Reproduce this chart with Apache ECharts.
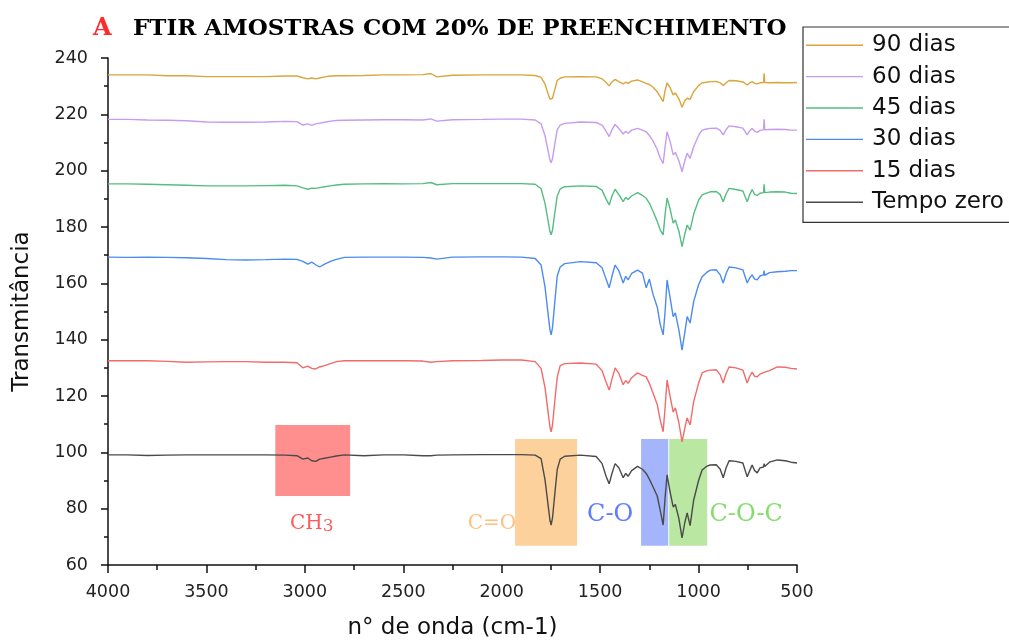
<!DOCTYPE html>
<html><head><meta charset="utf-8">
<script src="https://cdn.jsdelivr.net/npm/echarts@6/dist/echarts.min.js"></script>
<style>html,body{margin:0;padding:0;background:#fff}#c{width:1009px;height:641px}</style>
</head><body><div id="c"></div>
<script>
// Wavenumber grid (cm-1)
const wavenumbers = [4000,3900,3800,3700,3600,3500,3400,3300,3200,3100,3040,3010,2985,2965,2945,2925,2900,2870,2840,2800,
 2700,2600,2500,2400,2360,2330,2250,2100,2000,1900,1830,1800,1780,1765,1755,1749,1742,1732,1718,1703,
 1680,1600,1520,1490,1470,1454,1440,1424,1405,1383,1370,1358,1340,1310,1285,1266,1250,1231,1210,1195,
 1180,1170,1160,1145,1129,1118,1100,1084,1070,1058,1043,1025,1000,982,960,941,910,890,875,860,
 845,810,775,753,740,728,715,702,688,670,667,664,640,600,560,530,500];

const dias90 = [234.0,234.0,234.0,233.7,233.7,233.4,233.4,233.4,233.4,233.6,233.6,233.0,232.6,232.9,232.6,232.9,233.3,233.6,233.7,233.7,
 233.8,234.0,234.0,234.1,234.5,233.3,233.9,234.0,234.0,234.0,233.8,233.1,230.7,227.5,225.4,224.8,225.7,228.4,232.0,232.8,
 233.3,233.4,233.3,232.6,231.3,230.1,231.5,232.4,231.6,230.8,231.4,231.0,231.8,232.2,231.5,231.0,230.6,229.6,228.0,226.3,
 224.5,228.5,231.2,229.5,226.9,227.6,225.5,222.5,224.8,225.7,225.3,228.0,230.2,231.2,231.4,231.6,231.7,231.2,230.2,231.2,
 232.0,231.9,231.5,230.4,231.2,231.6,231.0,230.8,231.2,231.3,234.6,231.3,231.2,231.3,231.2,231.2,231.3];

const dias60 = [218.2,218.2,218.0,217.9,217.7,217.3,217.2,217.2,217.3,217.5,217.4,216.2,216.6,216.1,216.6,216.9,217.2,217.6,217.8,217.9,
 218.0,218.1,218.1,218.0,218.4,217.6,218.1,218.2,218.3,218.3,218.0,216.6,212.4,207.2,203.8,202.8,204.3,208.7,214.6,216.2,
 216.8,217.3,217.1,216.2,214.0,212.1,214.5,216.4,215.0,213.0,214.0,213.3,214.4,215.0,214.4,213.8,212.5,210.5,207.5,204.5,
 202.6,208.5,213.8,210.5,205.6,206.5,203.5,199.6,203.5,206.2,204.4,208.5,212.5,214.4,214.8,215.0,215.1,214.3,212.7,214.6,
 215.9,215.6,215.1,212.7,214.2,215.0,214.0,213.6,214.3,214.5,218.2,214.5,214.6,214.7,214.6,214.4,214.4];

const dias45 = [195.3,195.3,195.2,195.0,194.8,194.6,194.6,194.6,194.7,194.8,194.6,193.9,193.4,193.8,193.7,194.0,194.3,194.6,194.9,195.2,
 195.3,195.4,195.3,195.4,195.8,195.0,195.4,195.4,195.4,195.4,195.2,193.6,188.4,182.4,178.4,177.2,178.9,184.1,191.0,193.5,
 194.3,194.6,194.4,193.0,190.0,187.8,191.0,193.4,191.5,189.0,190.5,189.8,191.0,192.2,191.2,190.2,188.5,185.5,182.0,179.0,
 177.2,184.5,190.3,186.5,181.4,182.5,178.5,173.0,177.5,180.7,178.9,184.5,189.5,191.4,192.0,192.5,192.6,191.5,189.0,191.8,
 193.7,193.3,192.8,189.0,191.5,193.3,191.5,191.2,192.0,192.2,195.2,192.2,192.4,192.5,192.4,192.0,191.9];

const dias30 = [169.3,169.2,169.3,169.2,169.1,168.8,168.4,168.3,168.4,168.6,168.5,167.8,166.8,167.5,166.6,165.8,166.8,167.8,168.5,169.2,
 169.3,169.3,169.3,169.2,169.0,168.6,169.3,169.4,169.4,169.3,168.8,166.5,158.7,149.5,143.5,141.7,144.3,152.1,162.6,165.8,
 167.0,167.7,167.3,165.5,161.5,158.4,162.5,166.5,164.5,160.1,162.5,161.2,163.5,164.7,163.6,158.4,161.5,156.0,151.6,145.5,
 141.7,150.0,161.2,155.0,148.2,149.5,143.5,136.3,142.5,148.2,145.9,153.5,159.5,162.3,163.8,164.7,164.8,163.0,160.1,163.5,
 165.8,165.5,164.8,160.1,162.0,163.0,161.5,161.2,162.6,163.0,164.5,162.8,163.8,164.1,164.3,164.5,164.5];

const dias15 = [132.5,132.5,132.5,132.3,132.0,132.1,132.2,132.2,132.0,132.0,131.8,130.0,130.6,129.8,129.6,130.3,130.8,131.5,132.2,132.5,
 132.5,132.5,132.5,132.4,132.0,132.2,132.5,132.6,132.8,132.8,132.2,129.8,123.0,114.6,109.0,107.3,109.7,117.0,126.7,130.8,
 131.5,131.7,131.3,129.0,125.0,122.1,126.0,130.0,128.0,124.0,125.5,124.5,126.5,128.2,127.3,126.8,124.5,121.0,117.0,111.5,
 107.3,116.0,125.7,120.0,114.3,115.8,110.5,103.7,108.5,112.2,109.7,118.0,124.5,128.2,128.9,129.2,129.3,127.5,124.6,128.0,
 130.3,130.0,129.2,124.6,127.0,128.5,127.0,126.8,127.8,128.3,129.0,128.3,129.0,130.3,130.2,129.8,129.6];

const tempoZero = [99.1,99.1,98.9,99.0,99.1,99.1,99.1,99.1,99.1,99.0,98.8,97.6,98.0,97.0,96.8,97.6,97.9,98.3,98.7,99.1,
 98.8,99.1,99.1,98.8,98.8,99.0,99.1,99.2,99.2,99.2,99.0,97.8,90.2,81.6,75.9,74.2,76.7,84.0,93.9,97.6,
 98.6,99.0,98.5,96.0,91.5,88.8,92.5,96.0,94.5,91.0,92.5,91.5,93.5,95.0,94.0,92.5,90.5,87.7,84.5,79.5,
 74.2,84.0,92.0,86.0,80.6,81.5,76.5,69.6,75.0,78.5,74.0,83.0,90.0,93.7,95.0,95.5,95.6,94.0,91.0,94.5,
 97.0,96.8,96.2,91.3,93.5,95.5,93.5,92.7,94.5,94.8,96.0,95.0,96.5,97.3,97.0,96.5,96.2];

const seriesNames = ['90 dias','60 dias','45 dias','30 dias','15 dias','Tempo zero'];
const seriesValues = [dias90, dias60, dias45, dias30, dias15, tempoZero];
const seriesColors = ['#D8A63A','#C79BEE','#55BC82','#4C8BF0','#F26B6B','#4A4A4A'];

// Highlighted bands: [wavenumber from, wavenumber to, transmittance low, transmittance high]
const bandRanges = [[3150,2770,84.5,109.7],[1932,1617,66.8,104.7],[1292,1154,66.8,104.7],[1149,956,66.8,104.7]];
const bandColors = ['rgba(255,60,60,0.58)','rgba(250,178,90,0.6)','rgba(95,125,250,0.57)','rgba(140,215,100,0.6)'];
// Band labels: text, wavenumber, transmittance
const bandLabels = [['CH3',2965,74.8],['C=O',2050,74.8],['C-O',1449,78.0],['C-O-C',758,78.0]];
const bandLabelColors = ['#FF3030','#FFB060','#3A5CFF','#66D44A'];
const bandLabelSizes = [20,20,24,24];

const xTicks = {min:500, max:4000, interval:500};
const yTicks = {min:60, max:240, interval:20};

const chart = echarts.init(document.getElementById('c'), null, {renderer:'canvas'});

const lineSeries = seriesNames.map((n,k)=>({
  name:n, type:'line', symbol:'none', smooth:false,
  data: wavenumbers.map((w,i)=>[w, seriesValues[k][i]]),
  lineStyle:{color:seriesColors[k], width:1.4},
  itemStyle:{color:seriesColors[k]},
  z: 2
}));

const bandSeries = {
  name:'bands', type:'line', data:[], z:5, silent:true,
  markArea:{silent:true,
    data: bandRanges.map((b,i)=>[{xAxis:b[0], yAxis:b[2], itemStyle:{color:bandColors[i]}},{xAxis:b[1], yAxis:b[3]}])
  }
};

const labelSeries = {
  name:'labels', type:'scatter', symbolSize:0, z:6, silent:true,
  data: bandLabels.map((l,i)=>({
    value:[l[1], l[2]],
    label:{show:true, position:'inside',
      formatter: l[0]==='CH3' ? '{m|CH}{s|3}' : l[0],
      color:bandLabelColors[i], fontFamily:'DejaVu Serif', fontSize:bandLabelSizes[i],
      rich: {m:{fontFamily:'DejaVu Serif', fontSize:20, color:bandLabelColors[i]},
             s:{fontFamily:'DejaVu Serif', fontSize:17, color:bandLabelColors[i], padding:[6,0,0,0]}}
    }
  }))
};

chart.setOption({
  animation:false,
  backgroundColor:'#fff',
  title:{
    left:88, top:12,
    text:'{a|A}{b|FTIR AMOSTRAS COM 20% DE PREENCHIMENTO}',
    textStyle:{rich:{
      a:{fontFamily:'DejaVu Serif', fontWeight:'bold', fontSize:24, color:'#FF2A2A', width:40},
      b:{fontFamily:'DejaVu Serif', fontWeight:'bold', fontSize:23, color:'#000'}
    }}
  },
  legend:{
    data:seriesNames, orient:'vertical', left:803, top:27,
    padding:[5,40,7,3], itemGap:5, itemWidth:57, itemHeight:14,
    borderColor:'#333', borderWidth:1.2, backgroundColor:'#fff',
    textStyle:{fontFamily:'DejaVu Sans', fontSize:23, lineHeight:26.4, color:'#111', padding:[0,0,0,4]},
    icon:'path://M0,0 L57,0 L57,1.4 L0,1.4 Z'
  },
  grid:{left:108, right:212, top:58, bottom:76, containLabel:false, outerBoundsMode:'none'},
  xAxis:{
    type:'value', inverse:true, min:xTicks.min, max:xTicks.max, interval:xTicks.interval,
    name:'n° de onda (cm-1)', nameLocation:'middle', nameGap:52,
    nameTextStyle:{fontFamily:'DejaVu Sans', fontSize:23, color:'#111'},
    axisLine:{show:true, lineStyle:{color:'#111', width:1.5}},
    axisTick:{show:true, inside:false, length:8, lineStyle:{color:'#111', width:1.5}},
    minorTick:{show:true, splitNumber:2, length:5, lineStyle:{color:'#111', width:1.5}},
    splitLine:{show:false},
    axisLabel:{fontFamily:'DejaVu Sans', fontSize:17.5, color:'#222', margin:18, formatter:(v)=>String(v)}
  },
  yAxis:{
    type:'value', min:yTicks.min, max:yTicks.max, interval:yTicks.interval,
    name:'Transmitância', nameLocation:'middle', nameGap:74, nameRotate:90,
    nameTextStyle:{fontFamily:'DejaVu Sans', fontSize:23, color:'#111'},
    axisLine:{show:true, lineStyle:{color:'#111', width:1.5}},
    axisTick:{show:true, inside:false, length:7, lineStyle:{color:'#111', width:1.5}},
    minorTick:{show:true, splitNumber:2, length:4, lineStyle:{color:'#111', width:1.5}},
    splitLine:{show:false},
    axisLabel:{fontFamily:'DejaVu Sans', fontSize:17.5, color:'#222', margin:20, formatter:(v)=>String(v)}
  },
  series:[...lineSeries, bandSeries, labelSeries]
});
</script>
</body></html>
